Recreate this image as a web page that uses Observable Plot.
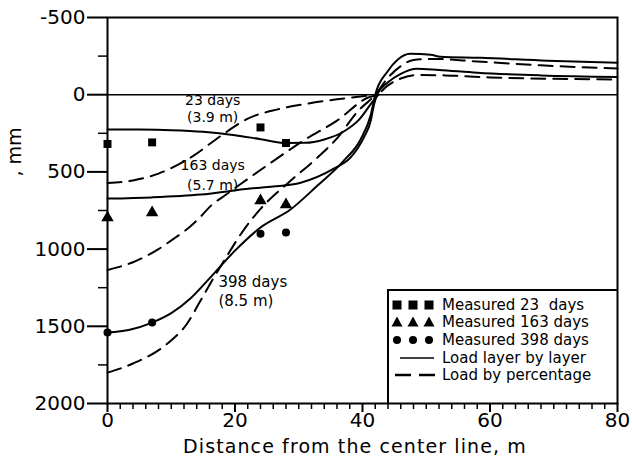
<!DOCTYPE html>
<html><head><meta charset="utf-8">
<script src="https://cdn.jsdelivr.net/npm/d3@7"></script>
<script src="https://cdn.jsdelivr.net/npm/@observablehq/plot@0.6"></script>
<style>body{margin:0;background:#fff}</style>
</head><body><div id="chart"></div>
<script>
// Measured settlements (x in m, y in mm; positive = settlement)
const measX = [0, 7, 24, 28];
const meas23 = [319, 309, 212, 313];
const meas163 = [796, 764, 686, 712];
const meas398 = [1540, 1476, 900, 893];

// Calculated curves: load layer by layer (solid)
const solid23X = [0, 5, 10, 15, 20, 24, 28, 31, 34, 37, 39.5, 41.5, 42.5];
const solid23Y = [225, 226, 230, 240, 262, 288, 313, 312, 290, 240, 160, 50, 0];
const solid163X = [0, 7, 14.6, 22.4, 26, 30.3, 35.5, 38.1, 40.2, 41.3, 41.7, 42.3, 44, 46, 48.5, 52, 58, 68, 80];
const solid163Y = [673, 665, 647, 608, 595, 570, 479, 408, 278, 168, 84, 0, -80, -135, -168, -160, -142, -125, -115];
const solid398X = [0, 3.5, 7, 10, 13, 16, 20, 24, 28.7, 32.9, 37, 39.7, 41.3, 42, 43.9, 45.5, 47.5, 50.7, 52.2, 58.5, 69, 80];
const solid398Y = [1540, 1522, 1476, 1415, 1320, 1190, 1010, 860, 744, 590, 430, 290, 130, 0, -149, -227, -265, -259, -246, -239, -220, -207];

// Calculated curves: load by percentage (dashed)
const dash23X = [0, 4, 8, 13, 18, 22, 26.7, 31.4, 36, 40, 42.5];
const dash23Y = [572, 555, 511, 408, 260, 155, 95, 58, 30, 10, 0];
const dash163X = [0, 4, 8, 10.5, 12.5, 14.6, 16.2, 18.5, 21, 26, 30.7, 36, 40.8, 42.3, 44, 46, 49, 53, 60, 70, 80];
const dash163Y = [1135, 1085, 1000, 930, 870, 790, 720, 650, 575, 430, 298, 168, 20, 0, -60, -105, -128, -125, -112, -103, -98];
const dash398X = [0, 4, 9.4, 12.5, 14.6, 16.6, 18.8, 21.3, 24, 28.2, 32.9, 36.1, 39.2, 42, 44, 46, 48, 51, 58, 68, 80];
const dash398Y = [1800, 1741, 1612, 1482, 1333, 1190, 1040, 880, 740, 576, 408, 278, 110, 0, -110, -185, -225, -232, -215, -190, -170];

// Tick labels
const yMajor = [-500, 0, 500, 1000, 1500, 2000];
const yMinor = [-250, 250, 750, 1250, 1750];
const xMajor = [0, 20, 40, 60, 80];
const xMinor = d3.range(2, 80, 2).filter(d => d % 20 !== 0);

// Curve annotations
const annText = ["23 days", "(3.9 m)", "163 days", "(5.7 m)", "398 days", "(8.5 m)"];
const annX = [16.5, 16.5, 16.5, 16.5, 17.4, 17.4];
const annY = [36, 146, 457, 587, 1212, 1340];
const annAnchor = ["middle", "middle", "middle", "middle", "start", "start"];

const zip = (xs, ys) => xs.map((x, i) => ({x, y: ys[i]}));
const curves = [
  {d: zip(solid23X, solid23Y), dash: null},
  {d: zip(solid163X, solid163Y), dash: null},
  {d: zip(solid398X, solid398Y), dash: null},
  {d: zip(dash23X, dash23Y), dash: "14,8"},
  {d: zip(dash163X, dash163Y), dash: "14,8"},
  {d: zip(dash398X, dash398Y), dash: "14,8"}
];
const ann = annText.map((t, i) => ({t, x: annX[i], y: annY[i], a: annAnchor[i]}));

const FONT = "DejaVu Sans";
const chart = Plot.plot({
  width: 632, height: 459,
  marginLeft: 107, marginRight: 15, marginTop: 17, marginBottom: 56,
  x: {domain: [0, 80]},
  y: {domain: [2000, -500]},
  style: {fontFamily: FONT, fontSize: "20px", color: "black", background: "white"},
  marks: [
    Plot.ruleY([0], {stroke: "black", strokeWidth: 1.5}),
    ...curves.map(c => Plot.line(c.d, {x: "x", y: "y", stroke: "black", strokeWidth: 2, strokeDasharray: c.dash, curve: "monotone-x"})),
    Plot.dot(zip(measX, meas23), {x: "x", y: "y", symbol: "square", r: 4.5, fill: "black"}),
    Plot.dot(zip(measX, meas163), {x: "x", y: "y", symbol: "triangle", r: 4.6, fill: "black"}),
    Plot.dot(zip(measX, meas398), {x: "x", y: "y", symbol: "circle", r: 4, fill: "black"}),
    Plot.text(ann.filter(a => a.a === "middle"), {x: "x", y: "y", text: "t", textAnchor: "middle", fontSize: 14, fill: "black"}),
    Plot.text(ann.filter(a => a.a === "start"), {x: "x", y: "y", text: "t", textAnchor: "start", fontSize: 15, fill: "black"}),
    Plot.axisY({ticks: yMajor, tickSize: 20, text: null, strokeWidth: 2, label: null}),
    Plot.axisY({ticks: yMajor, tickSize: 0, tickPadding: 22, label: null, fontSize: 20, tickFormat: d => d < 0 ? "-" + Math.abs(d) : String(d)}),
    Plot.axisY({ticks: yMinor, tickSize: 9, text: null, strokeWidth: 1.5, label: null}),
    Plot.axisX({ticks: xMajor, tickSize: 9, text: null, strokeWidth: 2, label: null}),
    Plot.axisX({ticks: xMajor, tickSize: 0, tickPadding: 9, label: null, fontSize: 20}),
    Plot.axisX({ticks: xMinor, tickSize: 6, text: null, strokeWidth: 1.5, label: null}),
    Plot.frame({stroke: "black", strokeWidth: 2})
  ]
});
document.getElementById("chart").appendChild(chart);

// Static decorations: axis titles and legend box
const svg = d3.select(chart);
svg.append("text").attr("x", 355).attr("y", 453).attr("text-anchor", "middle")
  .attr("font-family", FONT).attr("font-size", 19).attr("letter-spacing", 1.1)
  .text("Distance from the center line, m");
svg.append("text").attr("transform", "translate(21,152) rotate(-90)").attr("text-anchor", "middle")
  .attr("font-family", FONT).attr("font-size", 19).text(", mm");

const lg = svg.append("g");
lg.append("path").attr("d", "M388,403V290H617").attr("fill", "none").attr("stroke", "black").attr("stroke-width", 2);
const legendLabels = ["Measured 23  days", "Measured 163 days", "Measured 398 days", "Load layer by layer", "Load by percentage"];
const rows = [305, 322, 340, 358, 375];
const symX = [397, 413, 429];
legendLabels.forEach((t, i) => {
  lg.append("text").attr("x", 442).attr("y", rows[i]).attr("dy", "0.35em").attr("text-anchor", "start")
    .attr("font-family", FONT).attr("font-size", 15).style("white-space", "pre").text(t);
});
symX.forEach(x => {
  lg.append("rect").attr("x", x - 4.5).attr("y", rows[0] - 4.5).attr("width", 9).attr("height", 9);
  lg.append("path").attr("d", `M${x},${rows[1] - 5.5}L${x + 5.5},${rows[1] + 4.5}L${x - 5.5},${rows[1] + 4.5}Z`);
  lg.append("circle").attr("cx", x).attr("cy", rows[2]).attr("r", 4);
});
lg.append("line").attr("x1", 400).attr("x2", 434).attr("y1", rows[3]).attr("y2", rows[3]).attr("stroke", "black").attr("stroke-width", 1.5);
lg.append("line").attr("x1", 395).attr("x2", 435).attr("y1", rows[4]).attr("y2", rows[4]).attr("stroke", "black").attr("stroke-width", 2.5).attr("stroke-dasharray", "16,8");
</script></body></html>
